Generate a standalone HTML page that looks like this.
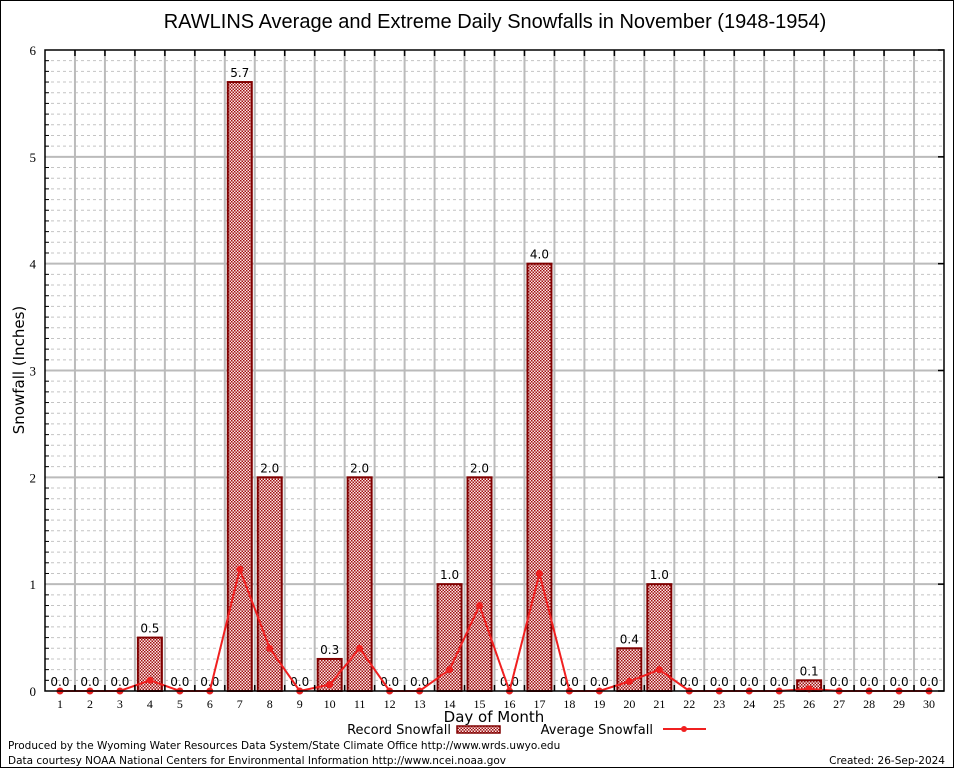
<!DOCTYPE html>
<html><head><meta charset="utf-8"><style>
body{margin:0;background:#fff;}
svg{display:block;font-family:"DejaVu Sans","Liberation Sans",sans-serif;}
</style></head><body>
<svg id="chart" width="954" height="768" viewBox="0 0 954 768">
<defs>
<pattern id="chk" width="3" height="3" patternUnits="userSpaceOnUse">
<rect width="3" height="3" fill="#fae8e8"/>
<rect width="1.5" height="1.5" fill="#a01010"/>
<rect x="1.5" y="1.5" width="1.5" height="1.5" fill="#a01010"/>
</pattern>
</defs>
<rect x="0.5" y="0.5" width="953" height="767" fill="#fff" stroke="#000"/>
<text x="495" y="28" font-size="20" text-anchor="middle" font-family="Liberation Sans, sans-serif">RAWLINS Average and Extreme Daily Snowfalls in November (1948-1954)</text>
<g id="grid"></g>
<g id="bars"></g>
<g id="line"></g>
<rect x="45" y="50" width="899" height="641" fill="none" stroke="#000" stroke-width="1.5"/>
<g id="axes"></g>
<text x="24" y="370" font-size="15" text-anchor="middle" transform="rotate(-90 24 370)">Snowfall (Inches)</text>
<text x="494" y="722" font-size="15" text-anchor="middle">Day of Month</text>
<g>
<text x="451" y="734" font-size="13" text-anchor="end">Record Snowfall</text>
<rect x="457" y="726" width="43" height="7" fill="url(#chk)" stroke="#800000" stroke-width="1.5"/>
<text x="653" y="734" font-size="13" text-anchor="end">Average Snowfall</text>
<line x1="663" y1="729" x2="706" y2="729" stroke="#f02020" stroke-width="2"/>
<circle cx="684" cy="729" r="3" fill="#f02020"/>
</g>
<text x="8" y="749" font-size="10.5">Produced by the Wyoming Water Resources Data System/State Climate Office http://www.wrds.uwyo.edu</text>
<text x="8" y="764" font-size="10.5">Data courtesy NOAA National Centers for Environmental Information http://www.ncei.noaa.gov</text>
<text x="945" y="764" font-size="10.5" text-anchor="end">Created: 26-Sep-2024</text>
</svg>
<script>
const days=[1,2,3,4,5,6,7,8,9,10,11,12,13,14,15,16,17,18,19,20,21,22,23,24,25,26,27,28,29,30];
const recordSnow=[0,0,0,0.5,0,0,5.7,2.0,0,0.3,2.0,0,0,1.0,2.0,0,4.0,0,0,0.4,1.0,0,0,0,0,0.1,0,0,0,0];
const avgSnow=[0,0,0,0.1,0,0,1.14,0.4,0,0.06,0.4,0,0,0.2,0.8,0,1.1,0,0,0.09,0.2,0,0,0,0,0.02,0,0,0,0];
const yTicks=[0,1,2,3,4,5,6];
const NS='http://www.w3.org/2000/svg';
const L=45,R=944,T=50,B=691,yMax=6;
const step=(R-L)/30;
function xs(d){return L+(d-0.5)*step;}
function ys(v){return B-(v/yMax)*(B-T);}
function mk(tag,attrs,parent,txt){const e=document.createElementNS(NS,tag);for(const k in attrs)e.setAttribute(k,attrs[k]);if(txt!==undefined)e.textContent=txt;parent.appendChild(e);return e;}
const grid=document.getElementById('grid'),bars=document.getElementById('bars'),line=document.getElementById('line'),axes=document.getElementById('axes');
for(let i=1;i<yMax*10;i++){if(i%10===0)continue;const y=ys(i/10);
const g=mk('line',{x1:L,x2:R,y1:y,y2:y,stroke:'#c4c4c4','stroke-dasharray':'3,3','stroke-width':1},grid);

}
for(let i=1;i<30;i++){const x=L+i*step;
const g=mk('line',{x1:x,x2:x,y1:T,y2:B,stroke:'#bbb','stroke-width':2},grid);


const t1=mk('line',{x1:x,x2:x,y1:T,y2:T+6,stroke:'#000','stroke-width':1.5},axes);


const t2=mk('line',{x1:x,x2:x,y1:B,y2:B-6,stroke:'#000','stroke-width':1.5},axes);

}
yTicks.forEach(v=>{const y=ys(v);
if(v>0&&v<yMax){const g=mk('line',{x1:L,x2:R,y1:y,y2:y,stroke:'#bbb','stroke-width':2},grid);

}
const t=mk('text',{x:36,y:y+5,'font-size':13,'text-anchor':'end','font-family':'Liberation Serif, serif'},axes,String(v));


const tk=mk('line',{x1:R,x2:R-6,y1:y,y2:y,stroke:'#000','stroke-width':1.5},axes);

});
for(let i=1;i<yMax*10;i++){if(i%10===0)continue;const y=ys(i/10);
const tk=mk('line',{x1:L,x2:L+4,y1:y,y2:y,stroke:'#000'},axes);

}
days.forEach((d,i)=>{const x=xs(d),v=recordSnow[i];
if(v>0){const r=mk('rect',{x:x-12,y:ys(v),width:24,height:B-ys(v),fill:'url(#chk)',stroke:'#800000','stroke-width':2},bars);

}
const lb=mk('text',{x:x,y:ys(v)-5,'font-size':12,'text-anchor':'middle'},bars,v.toFixed(1));


const xl=mk('text',{x:x,y:B+17,'font-size':12,'text-anchor':'middle','font-family':'Liberation Serif, serif'},axes,String(d));

});
const pts=days.map((d,i)=>xs(d)+','+ys(avgSnow[i])).join(' ');
const pl=mk('polyline',{points:pts,fill:'none',stroke:'#f02020','stroke-width':2},line);


days.forEach((d,i)=>{const c=mk('circle',{cx:xs(d),cy:ys(avgSnow[i]),r:3.5,fill:'#f02020'},line);

});
</script>
</body></html>
